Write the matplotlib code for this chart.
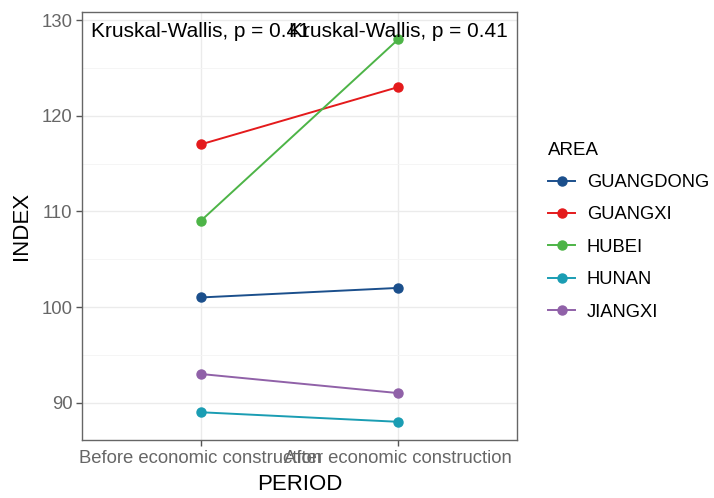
import matplotlib
matplotlib.use("Agg")
import matplotlib.pyplot as plt
from matplotlib.lines import Line2D

plt.rcParams['font.family'] = ['Liberation Sans', 'DejaVu Sans']

periods = ["Before economic construction", "After economic construction"]
areas = ["GUANGDONG", "GUANGXI", "HUBEI", "HUNAN", "JIANGXI"]
guangdong = [101, 102]
guangxi = [117, 123]
hubei = [109, 128]
hunan = [89, 88]
jiangxi = [93, 91]
series = [guangdong, guangxi, hubei, hunan, jiangxi]
colors = ["#1B4F8C", "#E41A1C", "#4DB447", "#1A9DB3", "#9061A8"]
annot = ["Kruskal-Wallis, p = 0.41", "Kruskal-Wallis, p = 0.41"]
y_ticks = [90, 100, 110, 120, 130]

fig = plt.figure(figsize=(7.14, 4.98), dpi=100)
ax = fig.add_axes([0.115, 0.1165, 0.609, 0.8595])

x = [1, 2]
for vals, c in zip(series, colors):
    ax.plot(x, vals, color=c, lw=1.4, marker='o', ms=6.5, zorder=3)

for xi, t in zip(x, annot):
    ax.text(xi, 128.8, t, ha='center', va='center', fontsize=15, color='black', zorder=4)

ax.set_xlim(0.4, 2.6)
ax.set_ylim(86.1, 130.85)
ax.set_xticks(x)
ax.set_xticklabels(periods)
ax.set_yticks(y_ticks)
ax.set_yticks([95, 105, 115, 125], minor=True)
ax.grid(True, which='major', color='#EBEBEB', lw=1.0, zorder=0)
ax.grid(True, which='minor', axis='y', color='#F4F4F4', lw=0.6, zorder=0)
ax.set_axisbelow(True)
for s in ax.spines.values():
    s.set_color('#666666')
    s.set_linewidth(1.0)
ax.tick_params(axis='both', which='major', colors='#555555', labelcolor='#666666',
               labelsize=13.3, length=4, width=1, pad=3)
ax.tick_params(axis='both', which='minor', length=0)
ax.set_xlabel("PERIOD", fontsize=16, labelpad=5)
ax.set_ylabel("INDEX", fontsize=16, labelpad=7)

handles = [Line2D([0], [0], color=c, lw=1.4, marker='o', ms=6.5) for c in colors]
leg = fig.legend(handles, areas, title="AREA", loc='center left',
                 bbox_to_anchor=(0.745, 0.536), frameon=False, fontsize=13.2,
                 title_fontsize=13.5, handlelength=1.45, labelspacing=0.84,
                 handletextpad=0.65)
leg._legend_box.align = "left"

fig.savefig("out.png", dpi=100)
